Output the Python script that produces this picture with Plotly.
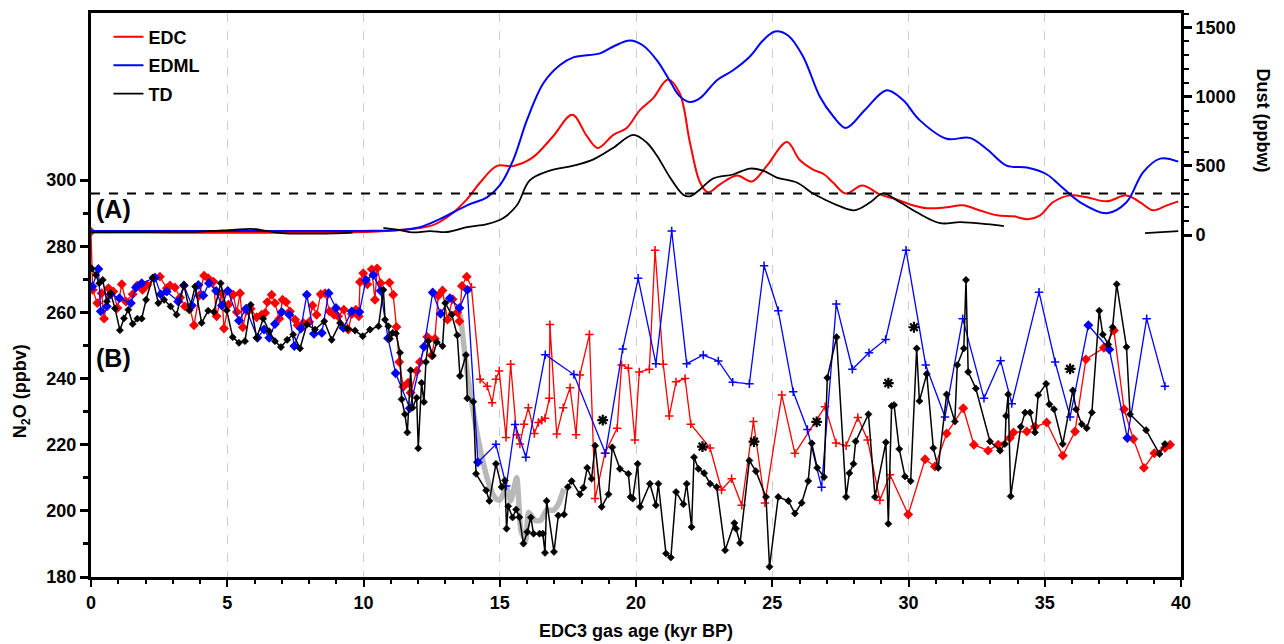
import plotly.graph_objects as go

# ---------------- Panel B: N2O (ppbv) ----------------
edc_age = [0.0, 0.06, 0.23, 0.39, 0.48, 0.64, 0.82, 0.97, 1.13, 1.28, 1.53, 1.7, 1.89, 2.06, 2.31, 2.53, 2.78, 2.9,
           3.08, 3.27, 3.45, 3.63, 3.78, 3.97, 4.15, 4.3, 4.49, 4.61, 4.8, 4.88, 5.04, 5.22, 5.35, 5.47, 5.57, 5.71,
           5.86, 6.08, 6.26, 6.39, 6.47, 6.63, 6.75, 6.91, 7.03, 7.16, 7.3, 7.49, 7.58, 7.79, 8.01, 8.13, 8.28, 8.43,
           8.59, 8.75, 8.92, 9.07, 9.28, 9.44, 9.57, 9.72, 9.83, 9.87, 9.99, 10.14, 10.3, 10.42, 10.5, 10.63, 10.95,
           11.09, 11.21, 11.31, 11.46, 11.64, 11.73, 11.95, 12.07, 12.34, 12.5, 12.62, 12.74, 12.9, 13.08, 13.27,
           13.44, 13.52, 13.61, 13.79, 13.96, 14.28, 14.54, 14.72, 14.86, 14.98, 15.23, 15.4, 15.62, 15.74, 15.89,
           16.05, 16.27, 16.42, 16.54, 16.66, 16.82, 16.84, 17.09, 17.33, 17.58, 17.8, 17.94, 18.29, 18.5, 18.86,
           19.31, 19.47, 19.72, 19.96, 20.12, 20.49, 20.7, 21.0, 21.22, 21.47, 21.8, 22.01, 22.72, 23.14, 23.51,
           23.88, 24.31, 24.73, 25.35, 25.83, 26.94, 27.34, 27.71, 28.14, 28.5, 28.95, 29.32, 29.99, 30.61, 30.97,
           31.4, 32.01, 32.4, 32.92, 33.29, 33.72, 33.85, 34.34, 34.64, 35.07, 35.66, 36.11, 36.51, 37.17, 37.54,
           37.91, 38.25, 38.64, 39.02, 39.41, 39.6]
edc_n2o = [284.4, 266.8, 262.8, 265.8, 258.1, 267.3, 266.3, 261.3, 268.5, 263.3, 265.5, 268.1, 266.8, 268.3, 270.3,
           270.8, 267.3, 268.1, 267.5, 264.5, 261.8, 261.3, 256.1, 265.1, 271.1, 270.3, 269.3, 258.8, 265.8, 255.1,
           262.3, 265.3, 260.1, 265.8, 255.5, 260.5, 261.1, 258.5, 259.3, 259.8, 263.1, 265.3, 262.8, 258.1, 263.8,
           263.1, 260.3, 257.8, 256.1, 256.8, 257.1, 262.1, 259.3, 265.5, 265.8, 260.3, 259.3, 258.8, 260.8, 254.8,
           259.5, 260.8, 258.8, 269.2, 271.8, 268.5, 273.0, 263.8, 273.3, 268.8, 269.0, 265.3, 255.6, 245.0, 237.5,
           238.7, 235.7, 242.3, 245.0, 252.6, 247.0, 252.0, 265.0, 266.6, 257.8, 264.0, 260.0, 257.3, 268.0, 270.8,
           267.6, 239.8, 237.7, 232.7, 239.8, 242.3, 222.2, 244.3, 223.0, 220.2, 226.2, 231.2, 223.4, 226.7, 227.4,
           228.0, 234.0, 256.3, 223.2, 231.2, 237.2, 223.0, 241.1, 253.3, 203.7, 217.4, 225.0, 244.1, 243.1, 221.4,
           242.0, 242.8, 278.8, 244.3, 228.7, 239.0, 240.0, 226.2, 219.0, 206.3, 209.7, 201.7, 227.0, 202.4, 235.0,
           217.4, 231.5, 220.5, 219.7, 228.2, 221.4, 203.2, 210.9, 198.9, 215.6, 213.4, 223.4, 231.0, 220.0, 218.2,
           220.0, 222.0, 223.7, 224.0, 225.4, 226.7, 216.7, 224.0, 245.8, 249.3, 254.5, 230.7, 221.7, 213.0, 217.4,
           219.0, 220.0]

edml_age = [0.05, 0.27, 0.36, 0.58, 0.72, 1.04, 1.46, 1.65, 1.86, 2.35, 2.56, 2.78, 3.2, 3.41, 3.7, 3.94, 4.12, 4.33,
            4.59, 4.8, 5.02, 5.43, 5.69, 6.11, 6.35, 6.54, 6.75, 7.0, 7.28, 7.46, 7.7, 7.92, 8.18, 8.47, 8.72, 8.99,
            9.26, 9.57, 9.85, 10.09, 10.36, 10.63, 10.9, 11.18, 11.7, 12.22, 12.54, 12.83, 13.17, 13.52, 13.81, 14.2,
            14.86, 15.24, 15.56, 15.96, 16.67, 17.72, 18.88, 19.51, 20.08, 20.73, 21.31, 21.86, 22.47, 23.02, 23.55,
            24.16, 24.7, 25.22, 25.77, 26.29, 26.81, 27.35, 27.94, 28.55, 29.16, 29.91, 30.63, 31.34, 31.99, 32.77,
            33.38, 33.79, 34.79, 35.38, 35.93, 36.6, 37.37, 38.03, 38.74, 39.41]
edml_n2o = [267.8, 273.1, 260.3, 261.8, 265.5, 264.3, 262.8, 267.5, 268.8, 270.5, 265.5, 266.3, 263.3, 268.1, 262.1,
            268.3, 265.1, 268.8, 266.5, 262.1, 266.5, 257.5, 261.1, 252.3, 254.8, 252.3, 256.5, 260.1, 259.3, 249.8,
            255.1, 265.3, 253.5, 253.8, 265.8, 261.3, 255.3, 260.3, 260.1, 269.8, 271.3, 266.5, 252.2, 241.6, 231.0,
            249.6, 266.0, 259.6, 264.3, 261.3, 266.8, 214.7, 220.1, 207.5, 226.1, 216.2, 247.2, 241.2, 217.4, 248.9,
            270.3, 244.5, 284.6, 244.5, 247.1, 245.3, 238.9, 238.4, 274.1, 260.5, 236.0, 224.6, 207.1, 262.5, 242.8,
            247.8, 251.8, 278.8, 244.1, 228.4, 258.1, 234.0, 245.4, 232.4, 266.1, 245.0, 228.4, 256.1, 248.8, 222.0,
            258.1, 237.7]

td_age = [0.02, 0.18, 0.3, 0.43, 0.58, 0.72, 0.88, 1.06, 1.21, 1.37, 1.53, 1.7, 1.86, 2.02, 2.26, 2.47, 2.68, 2.92,
          3.14, 3.41, 3.61, 3.82, 4.06, 4.3, 4.51, 4.76, 4.98, 5.2, 5.43, 5.65, 5.86, 6.08, 6.32, 6.54, 6.75, 6.97,
          7.2, 7.42, 7.67, 7.92, 8.22, 8.56, 8.83, 9.14, 9.41, 9.69, 9.97, 10.24, 10.55, 10.73, 10.79, 10.91, 10.97,
          11.07, 11.19, 11.34, 11.4, 11.52, 11.61, 11.73, 11.8, 11.95, 12.01, 12.13, 12.22, 12.29, 12.38, 12.54,
          12.69, 12.9, 13.0, 13.24, 13.44, 13.54, 13.76, 13.81, 14.03, 14.13, 14.5, 14.62, 14.86, 15.07, 15.19,
          15.25, 15.31, 15.47, 15.6, 15.72, 15.87, 16.01, 16.14, 16.24, 16.46, 16.58, 16.66, 16.72, 16.99, 17.15,
          17.36, 17.5, 17.64, 17.94, 18.07, 18.21, 18.37, 18.5, 18.74, 18.99, 19.13, 19.41, 19.72, 19.8, 19.88,
          20.06, 20.15, 20.51, 20.73, 20.82, 21.1, 21.28, 21.47, 21.74, 21.86, 22.04, 22.13, 22.29, 22.5, 22.72,
          22.96, 23.27, 23.61, 23.67, 23.82, 24.16, 24.4, 24.77, 24.9, 25.22, 25.59, 25.83, 26.08, 26.32, 26.45,
          26.65, 26.9, 27.02, 27.36, 27.71, 27.83, 27.98, 28.06, 28.53, 28.77, 29.17, 29.26, 29.38, 29.47, 29.66,
          29.87, 30.08, 30.3, 30.4, 30.67, 30.91, 31.09, 31.4, 31.7, 31.79, 32.03, 32.11, 32.19, 32.47, 32.99, 33.36,
          33.54, 33.58, 33.66, 33.75, 34.12, 34.28, 34.46, 34.64, 34.76, 35.05, 35.17, 35.34, 35.66, 36.03, 36.15,
          36.36, 36.54, 36.73, 37.0, 37.13, 37.33, 37.49, 37.64, 38.0, 38.13, 38.72, 39.21, 39.41]
td_n2o = [273.3, 271.3, 268.8, 269.8, 263.3, 265.8, 261.2, 254.6, 258.2, 260.8, 256.5, 258.1, 258.1, 263.8, 270.5,
          262.8, 263.8, 261.8, 259.3, 268.3, 260.6, 267.8, 256.8, 260.5, 260.1, 268.8, 260.6, 252.5, 250.8, 251.3,
          262.3, 252.3, 258.1, 254.3, 251.3, 249.5, 251.7, 253.3, 249.1, 256.3, 254.8, 257.3, 251.7, 256.8, 255.1,
          254.5, 252.8, 254.8, 255.8, 266.8, 257.8, 255.8, 252.0, 253.8, 253.6, 247.8, 233.7, 229.2, 223.7, 242.5,
          231.2, 234.2, 218.9, 238.7, 232.9, 245.0, 251.3, 246.8, 251.0, 249.8, 262.8, 259.3, 253.1, 240.8, 247.1,
          234.0, 233.0, 211.2, 206.2, 203.0, 214.2, 207.2, 209.2, 194.6, 201.4, 198.0, 200.4, 198.1, 190.1, 193.6,
          198.0, 193.1, 193.1, 193.1, 187.3, 203.0, 187.6, 198.6, 198.9, 207.2, 209.0, 205.0, 207.0, 213.0, 209.7,
          219.7, 201.2, 205.0, 219.2, 212.7, 211.2, 204.2, 203.7, 214.2, 201.2, 208.2, 201.7, 208.2, 187.1, 185.9,
          205.7, 202.0, 208.2, 195.1, 216.2, 212.7, 211.4, 208.2, 207.2, 188.1, 196.3, 194.6, 190.3, 215.2, 212.0,
          204.2, 183.1, 204.2, 203.0, 199.2, 202.4, 209.0, 220.4, 213.0, 210.2, 240.2, 252.5, 204.2, 211.4, 214.2,
          221.0, 229.2, 204.2, 220.7, 196.1, 231.7, 232.0, 218.7, 210.4, 209.0, 249.1, 233.2, 241.4, 219.0, 213.0,
          235.2, 227.0, 244.1, 249.1, 269.8, 242.0, 237.0, 221.0, 218.2, 220.2, 228.7, 235.2, 204.4, 225.4, 229.7,
          229.7, 223.7, 235.0, 238.4, 232.2, 230.7, 220.2, 236.4, 230.7, 226.2, 225.0, 229.7, 260.5, 253.3, 250.3,
          255.5, 268.5, 249.5, 229.2, 224.4, 217.2, 220.2]

# smoothed reference (grey band)
grey_age = [13.55, 13.78, 13.97, 14.15, 14.3, 14.58, 14.85, 15.0, 15.25, 15.4, 15.62, 15.78, 15.95, 16.06, 16.3,
            16.5, 16.72, 16.97, 17.15, 17.35]
grey_n2o = [259.6, 243.3, 233.0, 224.2, 218.0, 208.7, 203.7, 203.2, 207.0, 203.0, 210.0, 194.0, 191.0, 199.5, 197.1,
            197.1, 200.2, 200.2, 202.0, 206.7]

# flagged TD samples (asterisks)
star_age = [18.78, 22.44, 24.33, 26.63, 29.26, 30.2, 35.93]
star_n2o = [224.2, 216.2, 217.7, 223.7, 235.4, 252.3, 239.7]

# ---------------- Panel A: dust (ppbw) ----------------
edc_dust_age = [0, 2, 4, 6, 8, 10, 11.34, 12.55, 13.17, 13.8, 14.28, 14.9, 15.5, 16.2, 16.96, 17.66, 18.2, 18.6,
                19.17, 19.66, 20.15, 20.63, 21.17, 21.6, 21.98, 22.35, 22.64, 23.08, 23.7, 24.26, 24.8, 25.54, 26.0,
                26.5, 26.9, 27.23, 27.7, 28.3, 28.95, 29.57, 30.05, 30.67, 31.4, 32.0, 32.6, 33.25, 33.85, 34.38,
                34.83, 35.3, 35.93, 36.55, 37.28, 38.0, 38.5, 38.98, 39.48, 39.9]
edc_dust = [20, 18, 17, 16, 17, 22, 36, 72, 143, 260, 380, 500, 500, 560, 715, 870, 715, 630, 725, 775, 905, 990,
            1125, 1027, 668, 380, 309, 366, 431, 388, 500, 673, 545, 474, 440, 380, 300, 358, 294, 258, 222, 194, 201,
            215, 179, 143, 136, 115, 143, 237, 287, 273, 244, 287, 237, 179, 215, 244]

edml_dust_age = [0, 4, 8, 10, 11.34, 12.07, 12.8, 13.8, 14.53, 15.0, 15.5, 16.0, 16.6, 17.2, 17.7, 18.68, 19.17,
                 19.78, 20.26, 20.77, 21.25, 21.6, 21.98, 22.35, 22.97, 23.56, 24.18, 24.66, 25.1, 25.58, 26.13,
                 26.75, 27.23, 27.7, 28.4, 29.2, 29.8, 30.4, 31.4, 32.25, 32.9, 33.6, 34.35, 35.08, 35.56, 36.3,
                 37.28, 38.0, 38.6, 39.23, 39.9]
edml_dust = [29, 29, 30, 30, 36, 57, 115, 215, 273, 359, 546, 833, 1098, 1228, 1285, 1314, 1364, 1407, 1371, 1263,
             1113, 1005, 962, 990, 1120, 1192, 1292, 1407, 1472, 1443, 1292, 1000, 861, 775, 905, 1048, 976, 833,
             696, 703, 617, 502, 488, 438, 359, 237, 158, 237, 452, 553, 531]

td_dust_age = [0, 2, 4, 5.2, 5.9, 6.5, 7.0, 8.0, 9.0, 9.6, None, 10.73, 11.34, 11.8, 12.44, 13.06, 13.8, 14.53,
               15.12, 15.63, 16.1, 16.84, 17.7, 18.42, 19.17, 19.9, 20.4, 20.77, 21.25, 21.72, 21.98, 22.35, 22.83,
               23.56, 24.18, 24.66, 25.17, 25.9, 26.5, 27.0, 27.4, 28.0, 28.6, 29.06, 29.69, 30.3, 31.16, 31.9,
               32.88, 33.5, None, 38.68, 39.9]
td_dust = [20, 22, 25, 38, 45, 28, 14, 10, 12, 17, None, 52, 36, 19, 29, 22, 57, 79, 122, 215, 395, 466, 502, 546,
           632, 725, 668, 574, 416, 294, 280, 330, 409, 438, 481, 466, 416, 380, 300, 250, 215, 179, 237, 301, 237,
           165, 86, 93, 79, 65, None, 14, 29]

DUST_THRESHOLD = 300

x_major = [0, 5, 10, 15, 20, 25, 30, 35, 40]
x_minor = [v for v in range(0, 41) if v % 5]
n2o_major = [180, 200, 220, 240, 260, 280, 300]
n2o_minor = [190, 210, 230, 250, 270, 290]
dust_major = [0, 500, 1000, 1500]
dust_minor = [v for v in range(0, 1700, 100) if v % 500]

RED, BLUE, BLACK = "#ff0000", "#0000ff", "#000000"
FONT = "Liberation Sans, Arial, Helvetica, sans-serif"


def edc_symbol(a):
    return "diamond" if (a < 13.9 or a > 29.9) else "cross-thin"


def edml_symbol(a):
    return "diamond" if (a < 14.5 or 36.3 < a < 38.4) else "cross-thin"


fig = go.Figure()

# dust curves (panel A)
for name, xs, ys, col, w in [("EDC", edc_dust_age, edc_dust, RED, 2),
                             ("EDML", edml_dust_age, edml_dust, BLUE, 2),
                             ("TD", td_dust_age, td_dust, BLACK, 1.8)]:
    fig.add_trace(go.Scatter(x=xs, y=ys, yaxis="y2", mode="lines", name=name, legendgroup=name,
                             line=dict(color=col, width=w, shape="spline", smoothing=1.0),
                             connectgaps=False, showlegend=True))

# grey smoothed band
fig.add_trace(go.Scatter(x=grey_age, y=grey_n2o, mode="lines", showlegend=False,
                         line=dict(color="#b8b8b8", width=5.5, shape="spline", smoothing=0.6)))

# EDC N2O
fig.add_trace(go.Scatter(x=edc_age, y=edc_n2o, mode="lines+markers", showlegend=False,
                         line=dict(color=RED, width=1.3),
                         marker=dict(symbol=[edc_symbol(a) for a in edc_age], size=6, color=RED,
                                     line=dict(color=RED, width=1.5))))
# EDML N2O
fig.add_trace(go.Scatter(x=edml_age, y=edml_n2o, mode="lines+markers", showlegend=False,
                         line=dict(color=BLUE, width=1.3),
                         marker=dict(symbol=[edml_symbol(a) for a in edml_age], size=6, color=BLUE,
                                     line=dict(color=BLUE, width=1.5))))
# TD N2O
fig.add_trace(go.Scatter(x=td_age, y=td_n2o, mode="lines+markers", showlegend=False,
                         line=dict(color=BLACK, width=1.5),
                         marker=dict(symbol="diamond", size=5.5, color=BLACK,
                                     line=dict(color=BLACK, width=0.6))))
# asterisks
fig.add_trace(go.Scatter(x=star_age, y=[v + 3.2 for v in star_n2o], mode="markers", showlegend=False,
                         marker=dict(symbol="asterisk-open", size=9, color=BLACK,
                                     line=dict(color=BLACK, width=2.2))))

# dashed dust threshold
fig.add_shape(type="line", xref="paper", x0=0, x1=1, yref="y2", y0=DUST_THRESHOLD, y1=DUST_THRESHOLD,
              line=dict(color="black", width=2, dash="dash"))

tickfont = dict(family=FONT, size=18, color="black", weight="bold")

# the page body adds an 8px offset, so the figure is 8px smaller than the window
fig.update_layout(
    width=1276, height=636,
    margin=dict(l=83, r=103, t=2, b=67),
    paper_bgcolor="white", plot_bgcolor="white",
    font=dict(family=FONT, color="black"),
    showlegend=True,
    legend=dict(x=0.016, y=0.99, xanchor="left", yanchor="top", bgcolor="rgba(0,0,0,0)",
                font=dict(family=FONT, size=18, color="black", weight="bold"),
                tracegroupgap=2, itemwidth=30),
    xaxis=dict(range=[0, 40], tickmode="array", tickvals=x_major, ticks="outside", ticklen=7, tickwidth=2,
               tickcolor="black", showline=True, linecolor="black", linewidth=3, mirror=True,
               showgrid=True, gridcolor="#cccccc", griddash="dash", gridwidth=1.2, zeroline=False,
               tickfont=tickfont,
               minor=dict(tickmode="array", tickvals=x_minor, ticks="outside", ticklen=4, tickwidth=2,
                          tickcolor="black", showgrid=False)),
    yaxis=dict(range=[180, 350.5], tickmode="array", tickvals=n2o_major, ticks="outside", ticklen=8, tickwidth=2.5,
               tickcolor="black", showline=True, linecolor="black", linewidth=3, showgrid=False, zeroline=False,
               tickfont=tickfont,
               minor=dict(tickmode="array", tickvals=n2o_minor, ticks="outside", ticklen=5, tickwidth=2.5,
                          tickcolor="black", showgrid=False)),
    yaxis2=dict(range=[-2473, 1606], overlaying="y", side="right", tickmode="array", tickvals=dust_major,
                ticks="outside", ticklen=8, tickwidth=2.5, tickcolor="black", showline=True, linecolor="black",
                linewidth=3, showgrid=False, zeroline=False, tickfont=tickfont,
                minor=dict(tickmode="array", tickvals=dust_minor, ticks="outside", ticklen=5, tickwidth=2,
                           tickcolor="black", showgrid=False)),
)

ann_font = dict(family=FONT, size=18, color="black", weight="bold")
fig.add_annotation(text="EDC3 gas age (kyr BP)", xref="paper", yref="paper", x=0.5, y=-0.074,
                   xanchor="center", yanchor="top", showarrow=False, font=ann_font)
fig.add_annotation(text="N<sub>2</sub>O (ppbv)", xref="paper", yref="paper", x=-0.063, y=0.33,
                   xanchor="center", yanchor="middle", textangle=-90, showarrow=False, font=ann_font)
fig.add_annotation(text="Dust (ppbw)", xref="paper", yref="paper", x=1.075, y=0.81,
                   xanchor="center", yanchor="middle", textangle=90, showarrow=False, font=ann_font)
fig.add_annotation(text="(A)", xref="paper", yref="paper", x=0.003, y=0.6526, xanchor="left",
                   yanchor="middle", showarrow=False, font=dict(family=FONT, size=25, color="black", weight="bold"))
fig.add_annotation(text="(B)", xref="paper", yref="paper", x=0.003, y=0.388, xanchor="left",
                   yanchor="middle", showarrow=False, font=dict(family=FONT, size=25, color="black", weight="bold"))

fig.write_html("out.html")
